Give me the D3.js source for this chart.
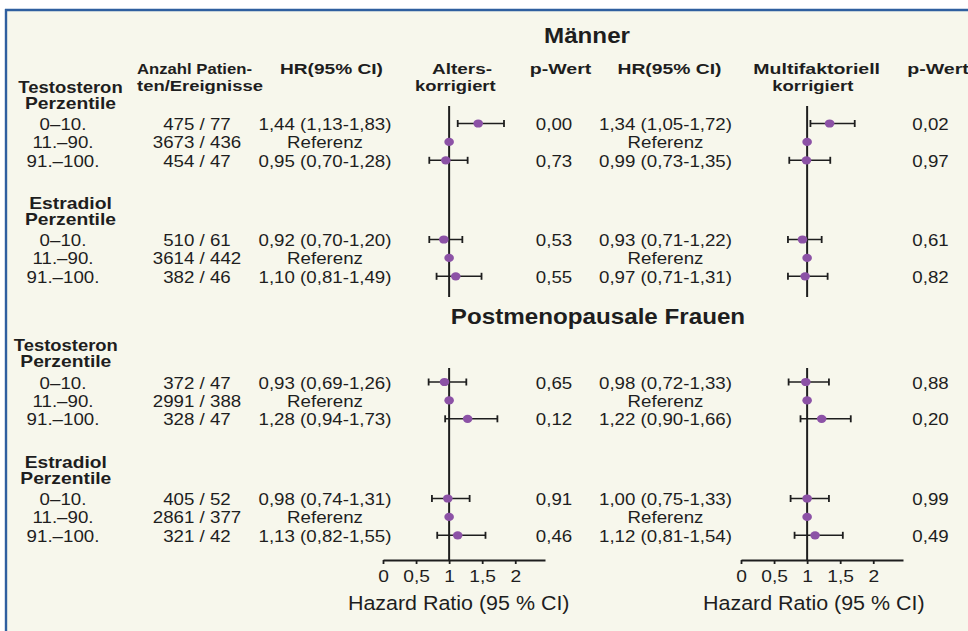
<!DOCTYPE html>
<html><head><meta charset="utf-8">
<script src="https://cdn.jsdelivr.net/npm/d3@7"></script>
<style>
html,body{margin:0;padding:0;background:#ffffff;}
svg{display:block;}
text{font-family:"Liberation Sans",Arial,Helvetica,sans-serif;fill:#1e1e1e;}
</style></head>
<body>
<svg id="chart" width="968" height="631"></svg>
<script>
// ---------------- data ----------------
const percentiles = ["0–10.", "11.–90.", "91.–100."];
const sections = ["Männer", "Postmenopausale Frauen"];
const groupLabels = [["Testosteron", "Perzentile"], ["Estradiol", "Perzentile"], ["Testosteron", "Perzentile"], ["Estradiol", "Perzentile"]];
const groupSection = [0, 0, 1, 1];

const counts = [
  ["475 / 77", "3673 / 436", "454 / 47"],
  ["510 / 61", "3614 / 442", "382 / 46"],
  ["372 / 47", "2991 / 388", "328 / 47"],
  ["405 / 52", "2861 / 377", "321 / 42"]
];
// age-adjusted HR (reference row = 1, no CI)
const ageHR = [[1.44, 1, 0.95], [0.92, 1, 1.10], [0.93, 1, 1.28], [0.98, 1, 1.13]];
const ageLo = [[1.13, null, 0.70], [0.70, null, 0.81], [0.69, null, 0.94], [0.74, null, 0.82]];
const ageHi = [[1.83, null, 1.28], [1.20, null, 1.49], [1.26, null, 1.73], [1.31, null, 1.55]];
const ageP  = [["0,00", "", "0,73"], ["0,53", "", "0,55"], ["0,65", "", "0,12"], ["0,91", "", "0,46"]];
// multifactorially adjusted HR
const mulHR = [[1.34, 1, 0.99], [0.93, 1, 0.97], [0.98, 1, 1.22], [1.00, 1, 1.12]];
const mulLo = [[1.05, null, 0.73], [0.71, null, 0.71], [0.72, null, 0.90], [0.75, null, 0.81]];
const mulHi = [[1.72, null, 1.35], [1.22, null, 1.31], [1.33, null, 1.66], [1.33, null, 1.54]];
const mulP  = [["0,02", "", "0,97"], ["0,61", "", "0,82"], ["0,88", "", "0,20"], ["0,99", "", "0,49"]];

const axisTicks = [0, 0.5, 1, 1.5, 2];
const axisTitle = "Hazard Ratio (95 % CI)";
const refLabel = "Referenz";

// ---------------- layout ----------------
const W = 968, H = 631;
const svg = d3.select("#chart");
const SX = 1.1; // horizontal stretch of the original lettering
const INK = "#1e1e1e", DOT = "#8c52a6";

svg.append("rect").attr("x", 0).attr("y", 0).attr("width", W).attr("height", H).attr("fill", "#ffffff");
svg.append("rect").attr("x", 6).attr("y", 10).attr("width", W).attr("height", H).attr("fill", "#f7f7ec");
svg.append("line").attr("x1", 5).attr("x2", W).attr("y1", 10).attr("y2", 10).attr("stroke", "#2f5f9f").attr("stroke-width", 2.4);
svg.append("line").attr("x1", 6).attr("x2", 6).attr("y1", 9).attr("y2", H).attr("stroke", "#2f5f9f").attr("stroke-width", 2.4);

function txt(x, y, s, o) {
  o = o || {};
  const t = svg.append("text")
    .attr("text-anchor", o.anchor || "middle")
    .style("font-size", (o.size || 17) + "px")
    .style("font-weight", o.bold ? "bold" : "normal")
    .text(s);
  if (o.w) {
    t.attr("x", x).attr("y", y).attr("textLength", o.w).attr("lengthAdjust", "spacingAndGlyphs");
  } else {
    t.attr("transform", `translate(${x},${y}) scale(${o.sx || SX},1)`);
  }
  return t;
}
const fmt = v => d3.format(".2f")(v).replace(".", ",");

// x scales for the two forest panels
const xAge = d3.scaleLinear().domain([0, 2.45]).range([383, 545]);
const xMul = d3.scaleLinear().domain([0, 2.45]).range([741, 903]);

// row positions: group offsets + row step
const groupTop = [123.5, 239.5, 382, 498.5];
const yRow = (g, i) => d3.scaleLinear().domain([0, 1]).range([groupTop[g], groupTop[g] + 18.4])(i);

// column centres
const colCat = 63, colCnt = 197, colHR1 = 325, colP1 = 554, colHR2 = 665.5, colP2 = 930.5;

// section titles
txt(587, 43, sections[0], {size: 22, bold: true});
txt(598, 323.5, sections[1], {size: 22, bold: true});

// column headers
txt(137, 74, "Anzahl Patien-", {size: 15, bold: true, anchor: "start", w: 115});
txt(137, 90.7, "ten/Ereignisse", {size: 15, bold: true, anchor: "start", w: 126});
txt(331.5, 74, "HR(95% CI)", {size: 15, bold: true, w: 103});
txt(462, 74, "Alters-", {size: 15, bold: true, w: 60});
txt(455.3, 90.7, "korrigiert", {size: 15, bold: true, w: 80.7});
txt(560.5, 74, "p-Wert", {size: 15, bold: true, w: 61.6});
txt(669.5, 74, "HR(95% CI)", {size: 15, bold: true, w: 104});
txt(816.7, 74, "Multifaktoriell", {size: 15, bold: true, w: 126.7});
txt(812.8, 90.7, "korrigiert", {size: 15, bold: true, w: 81});
txt(907.3, 74, "p-Wert", {size: 15, bold: true, anchor: "start", w: 61.6});

// reference lines at HR = 1
const secSpan = [[106, 297], [368, 560]];
[xAge, xMul].forEach(x => {
  secSpan.forEach(s => {
    svg.append("line").attr("x1", x(1)).attr("x2", x(1)).attr("y1", s[0]).attr("y2", s[1])
      .attr("stroke", INK).attr("stroke-width", 2);
  });
});

function forest(x, hr, lo, hi, g) {
  hr[g].forEach((v, i) => {
    const y = yRow(g, i);
    if (lo[g][i] != null) {
      const l = x(lo[g][i]), h = x(hi[g][i]);
      svg.append("line").attr("x1", l).attr("x2", h).attr("y1", y).attr("y2", y).attr("stroke", INK).attr("stroke-width", 1.6);
      [l, h].forEach(c => svg.append("line").attr("x1", c).attr("x2", c).attr("y1", y - 3.5).attr("y2", y + 3.5).attr("stroke", INK).attr("stroke-width", 1.8));
    }
    svg.append("ellipse").attr("cx", x(v)).attr("cy", y).attr("rx", 4.8).attr("ry", 4.1).attr("fill", DOT);
  });
}

const labelW = [[104.4, 91], [82.7, 91], [104, 91], [82, 91]];
groupLabels.forEach((lab, g) => {
  const y0 = groupTop[g];
  const cx = groupSection[g] === 0 ? 70.5 : 65.8;
  txt(cx, y0 - 30.8, lab[0], {size: 16.5, bold: true, w: labelW[g][0]});
  txt(cx, y0 - 14.7, lab[1], {size: 16.5, bold: true, w: labelW[g][1]});
  percentiles.forEach((p, i) => {
    const yb = yRow(g, i) + 6.5;
    txt(colCat, yb, p);
    txt(colCnt, yb, counts[g][i]);
    txt(colHR1, yb, ageLo[g][i] == null ? refLabel : `${fmt(ageHR[g][i])} (${fmt(ageLo[g][i])}-${fmt(ageHi[g][i])})`);
    txt(colHR2, yb, mulLo[g][i] == null ? refLabel : `${fmt(mulHR[g][i])} (${fmt(mulLo[g][i])}-${fmt(mulHi[g][i])})`);
    if (ageP[g][i]) txt(colP1, yb, ageP[g][i]);
    if (mulP[g][i]) txt(colP2, yb, mulP[g][i]);
  });
  forest(xAge, ageHR, ageLo, ageHi, g);
  forest(xMul, mulHR, mulLo, mulHi, g);
});

// axes
[[xAge, 458.7], [xMul, 813.8]].forEach(([x, cx]) => {
  const ax = svg.append("g").attr("transform", "translate(0,560)")
    .call(d3.axisBottom(x).tickValues(axisTicks).tickSize(4).tickSizeOuter(0)
      .tickFormat(d => String(d).replace(".", ",")));
  ax.select(".domain").attr("stroke", INK).attr("stroke-width", 2);
  ax.selectAll(".tick line").attr("stroke", INK).attr("stroke-width", 1.8);
  ax.selectAll(".tick text").attr("y", 0).attr("dy", 0)
    .attr("transform", `translate(0,21.8) scale(1.2,1)`)
    .style("font-size", "16px").style("font-family", "Liberation Sans, Arial, sans-serif").attr("fill", INK);
  txt(cx, 609.5, axisTitle, {size: 19.5});
});
</script>
</body></html>
